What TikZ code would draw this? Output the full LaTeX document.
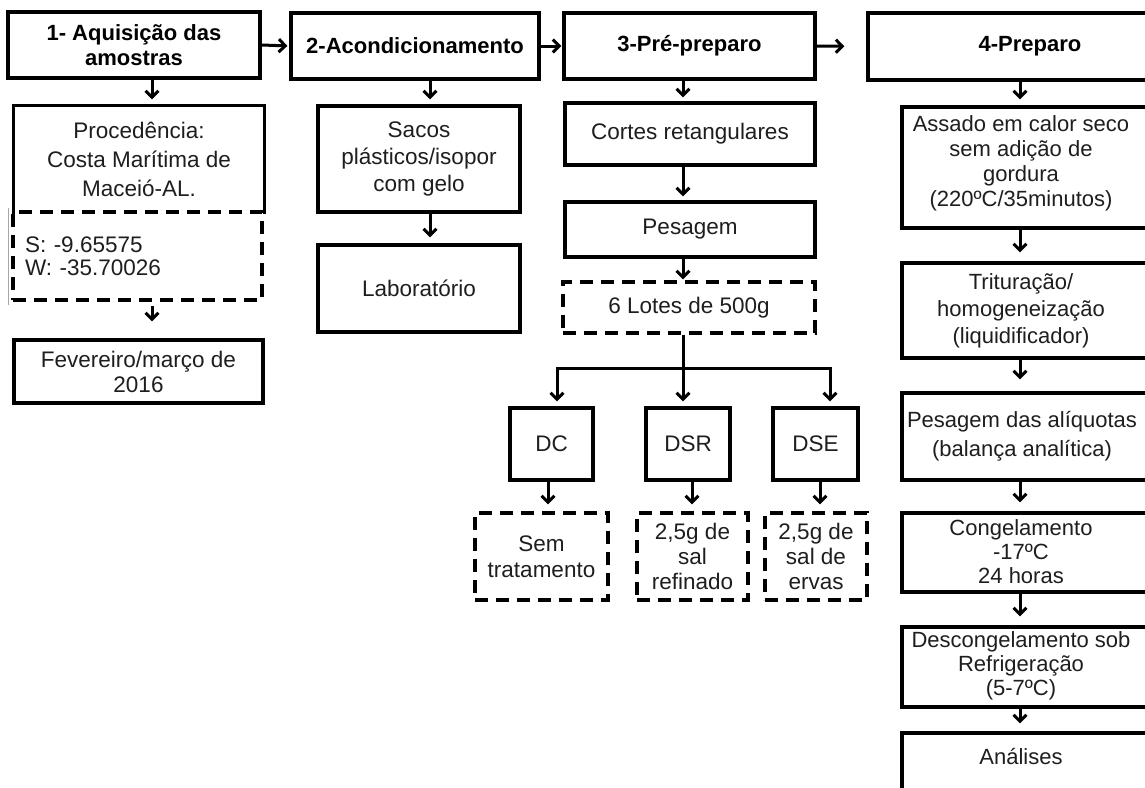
\documentclass[tikz,border=0pt]{standalone}
\usepackage{fontspec}
\setmainfont{Liberation Sans}
\usetikzlibrary{arrows.meta}
\definecolor{txtc}{HTML}{1E1E1E}
\begin{document}
\begin{tikzpicture}[x=1pt,y=-1pt,
  box/.style={draw, line width=3.2pt, inner sep=0pt, align=center, text=txtc,
    font=\fontsize{22.5}{26}\selectfont},
  nobox/.style={box, draw=none},
  dbox/.style={box, dash pattern=on 13pt off 8pt},
  hd/.style={box, text=black, font=\bfseries\fontsize{22}{25}\selectfont},
  txt/.style={inner sep=0pt, align=center, text=txtc, font=\fontsize{22}{26}\selectfont},
  frame/.style={line width=3.2pt},
  plain/.style={line width=3pt},
  arr/.style={line width=3pt, -{Straight Barb[length=6.5pt,width=13pt]}}]
\useasboundingbox (0,0) rectangle (1145,787);
\clip (0,0) rectangle (1145,787);
\fill[white] (0,0) rectangle (1145,787);

% x positions of vertical connectors
\coordinate (xa) at (152,0);
\coordinate (xb) at (430,0);
\coordinate (xc) at (683,0);
\coordinate (xd) at (1020,0);
\coordinate (xdc) at (557,0);
\coordinate (xdse) at (830,0);
\coordinate (xs1) at (548,0);
\coordinate (xs2) at (692,0);
\coordinate (xs3) at (820,0);

% headers
\node[hd, minimum width=252pt, minimum height=66pt] (n1) at (134,45) {1- Aquisição das\\amostras};
\node[hd, minimum width=248pt, minimum height=66pt] (n2) at (415,46) {2-Acondicionamento};
\node[hd, minimum width=251pt, minimum height=66pt] (n3) at (689.5,46) {3-Pré-preparo};
\node[hd, minimum width=324pt, minimum height=67pt] (n4) at (1030,46.5) {4-Preparo};

% column 1
\node[nobox, minimum width=248pt, minimum height=105pt, font=\fontsize{22.5}{29}\selectfont] (proc) at (139,159.5) {Procedência:\\Costa Marítima de\\Maceió-AL.};
\draw[frame] (proc.south west) -- (proc.north west) -- (proc.north east) -- (proc.south east);
\node[dbox, minimum width=249pt, minimum height=88pt, text width=225pt, align=left, font=\fontsize{22.5}{23}\selectfont] (geo) at (137.5,256) {S: -9.65575\\W: -35.70026};
\draw[black!35, line width=1pt] (8,208) -- (8,305);
\node[box, minimum width=249pt, minimum height=63pt, font=\fontsize{22.5}{25}\selectfont] (fev) at (138.5,371.5) {Fevereiro/março de\\2016};

% column 2
\node[box, minimum width=202pt, minimum height=106pt, font=\fontsize{22.5}{27}\selectfont] (sacos) at (419,159) {Sacos\\plásticos/isopor\\com gelo};
\node[box, minimum width=202pt, minimum height=87pt] (lab) at (419,288.5) {Laboratório};

% column 3
\node[box, minimum width=250pt, minimum height=62pt] (cortes) at (690,134) {Cortes retangulares};
\node[box, minimum width=250pt, minimum height=55pt] (pesag) at (690,229.5) {Pesagem};
\node[dbox, minimum width=252pt, minimum height=51pt] (lotes) at (689,307.5) {6 Lotes de 500g};
\node[box, minimum width=83pt, minimum height=72pt] (dc) at (551.5,444) {DC};
\node[box, minimum width=84pt, minimum height=72pt] (dsr) at (688,444) {DSR};
\node[box, minimum width=85pt, minimum height=72pt] (dse) at (815.5,444) {DSE};
\node[dbox, minimum width=133pt, minimum height=87pt] (sem) at (541.5,556.5) {Sem\\tratamento};
\node[dbox, minimum width=111pt, minimum height=87pt, font=\fontsize{22.5}{25}\selectfont] (ref) at (692.5,556.5) {2,5g de\\sal\\refinado};
\node[dbox, minimum width=102pt, minimum height=87pt, font=\fontsize{22.5}{25}\selectfont] (erv) at (816,556.5) {2,5g de\\sal de\\ervas};
\coordinate (jn) at (683,368);

% column 4 (frames run past the right edge)
\node[box, minimum width=268pt, minimum height=121pt] (a1) at (1036,167.5) {};
\node[txt, font=\fontsize{22}{25}\selectfont] (a1t) at (1021,163) {Assado em calor seco\\sem adição de\\gordura\\(220ºC/35minutos)};
\node[box, minimum width=268pt, minimum height=95pt] (a2) at (1036,310.5) {};
\node[txt, font=\fontsize{22}{27}\selectfont] (a2t) at (1021,310.5) {Trituração/\\homogeneização\\(liquidificador)};
\node[box, minimum width=268pt, minimum height=87pt] (a3) at (1036,436.5) {};
\node[txt, font=\fontsize{22}{29}\selectfont] (a3t) at (1022,436) {Pesagem das alíquotas\\(balança analítica)};
\node[box, minimum width=268pt, minimum height=79pt] (a4) at (1036,552.5) {};
\node[txt, font=\fontsize{22}{24}\selectfont] (a4t) at (1021,552) {Congelamento\\-17ºC\\24 horas};
\node[box, minimum width=268pt, minimum height=80pt] (a5) at (1036,667) {};
\node[txt, font=\fontsize{22}{24}\selectfont] (a5t) at (1021,666) {Descongelamento sob\\Refrigeração\\(5-7ºC)};
\node[box, minimum width=268pt, minimum height=80pt] (a6) at (1036,773) {};
\node[txt] (a6t) at (1021,756) {Análises};

% horizontal connectors
\draw[arr, shorten >=2pt] (n1.east) -- (n2.west);
\draw[arr, shorten >=1pt] (n2.east) -- (n3.west);
\draw[arr, shorten >=22pt] (n3.east) -- (n4.west);

% column 1 connectors
\draw[arr, shorten >=6pt] (n1.south -| xa) -- (proc.north -| xa);
\draw[arr, shorten >=17pt, shorten <=4pt] (geo.south -| xa) -- (fev.north -| xa);
% column 2
\draw[arr, shorten >=5pt] (n2.south -| xb) -- (sacos.north -| xb);
\draw[arr, shorten >=6pt] (sacos.south -| xb) -- (lab.north -| xb);
% column 3
\draw[arr, shorten >=4pt] (n3.south -| xc) -- (cortes.north -| xc);
\draw[arr, shorten >=4pt] (cortes.south -| xc) -- (pesag.north -| xc);
\draw[arr, shorten >=1pt] (pesag.south -| xc) -- (lotes.north -| xc);
\draw[plain] (lotes.south -| xc) -- (jn);
\draw[arr, shorten >=5pt] (jn) -| (dc.north -| xdc);
\draw[arr, shorten >=5pt] (jn) -- (dsr.north -| xc);
\draw[arr, shorten >=5pt] (jn) -| (dse.north -| xdse);
\draw[arr, shorten >=7pt] (dc.south -| xs1) -- (sem.north -| xs1);
\draw[arr, shorten >=7pt] (dsr.south -| xs2) -- (ref.north -| xs2);
\draw[arr, shorten >=7pt] (dse.south -| xs3) -- (erv.north -| xs3);
% column 4
\draw[arr, shorten >=6pt] (n4.south -| xd) -- (a1.north -| xd);
\draw[arr, shorten >=9pt] (a1.south -| xd) -- (a2.north -| xd);
\draw[arr, shorten >=12pt] (a2.south -| xd) -- (a3.north -| xd);
\draw[arr, shorten >=9pt] (a3.south -| xd) -- (a4.north -| xd);
\draw[arr, shorten >=9pt] (a4.south -| xd) -- (a5.north -| xd);
\draw[arr, shorten >=8pt] (a5.south -| xd) -- (a6.north -| xd);
\end{tikzpicture}
\end{document}
